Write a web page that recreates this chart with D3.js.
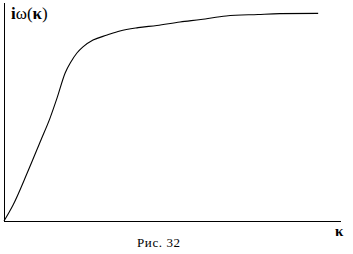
<!DOCTYPE html>
<html>
<head>
<meta charset="utf-8">
<script src="https://d3js.org/d3.v7.min.js"></script>
<style>
body { margin: 0; background: #fff; }
</style>
</head>
<body>
<div id="chart"></div>
<script>
// curve: kappa (0..10) and i*omega (0..1)
var kappa = [0, 0.27, 0.69, 1.10, 1.37, 1.58, 1.82, 1.99, 2.17, 2.35, 2.65, 3.07, 3.45, 3.99, 4.55, 5.24, 5.86, 6.61, 7.56, 8.21, 9.35];
var iomega = [0, 0.073, 0.219, 0.370, 0.470, 0.562, 0.676, 0.726, 0.767, 0.795, 0.826, 0.849, 0.868, 0.883, 0.893, 0.909, 0.920, 0.936, 0.943, 0.947, 0.948];
var caption = "Рис. 32";

var serif = "'Liberation Serif', 'Times New Roman', 'DejaVu Serif', serif";

var W = 353, H = 254;
var svg = d3.select("#chart").append("svg")
  .attr("width", W)
  .attr("height", H);

var x = d3.scaleLinear().domain([0, 10]).range([4, 340]);
var y = d3.scaleLinear().domain([0, 1]).range([221, 2]);

// axes: plain lines, no ticks
svg.append("g")
  .attr("transform", "translate(0," + y(0) + ")")
  .call(d3.axisBottom(x).tickValues([]).tickSizeOuter(0))
  .call(g => g.select(".domain").attr("stroke-width", 1.5).attr("shape-rendering", "crispEdges"));

svg.append("g")
  .attr("transform", "translate(" + x(0) + ",0)")
  .call(d3.axisLeft(y).tickValues([]).tickSizeOuter(0))
  .call(g => g.select(".domain").attr("stroke-width", 1.5).attr("shape-rendering", "crispEdges"));

var pts = kappa.map((k, i) => [k, iomega[i]]);
var line = d3.line()
  .x(d => x(d[0]))
  .y(d => y(d[1]))
  .curve(d3.curveMonotoneX);

svg.append("path")
  .datum(pts)
  .attr("fill", "none")
  .attr("stroke", "#000")
  .attr("stroke-width", 1.1)
  .attr("d", line);

// y label  iω(κ)
var yl = svg.append("text")
  .attr("x", 11)
  .attr("y", 19)
  .attr("font-family", serif)
  .attr("font-size", 17);
yl.append("tspan").attr("font-weight", "bold").text("i");
yl.append("tspan").text("ω(");
yl.append("tspan").attr("font-weight", "bold").text("κ");
yl.append("tspan").text(")");

// x label
svg.append("text")
  .attr("x", 335)
  .attr("y", 236)
  .attr("font-family", serif)
  .attr("font-weight", "bold")
  .attr("font-size", 15)
  .text("κ");

svg.append("text")
  .attr("x", 137)
  .attr("y", 247)
  .attr("font-family", serif)
  .attr("font-size", 13)
  .attr("letter-spacing", 0.6)
  .text(caption);
</script>
</body>
</html>
